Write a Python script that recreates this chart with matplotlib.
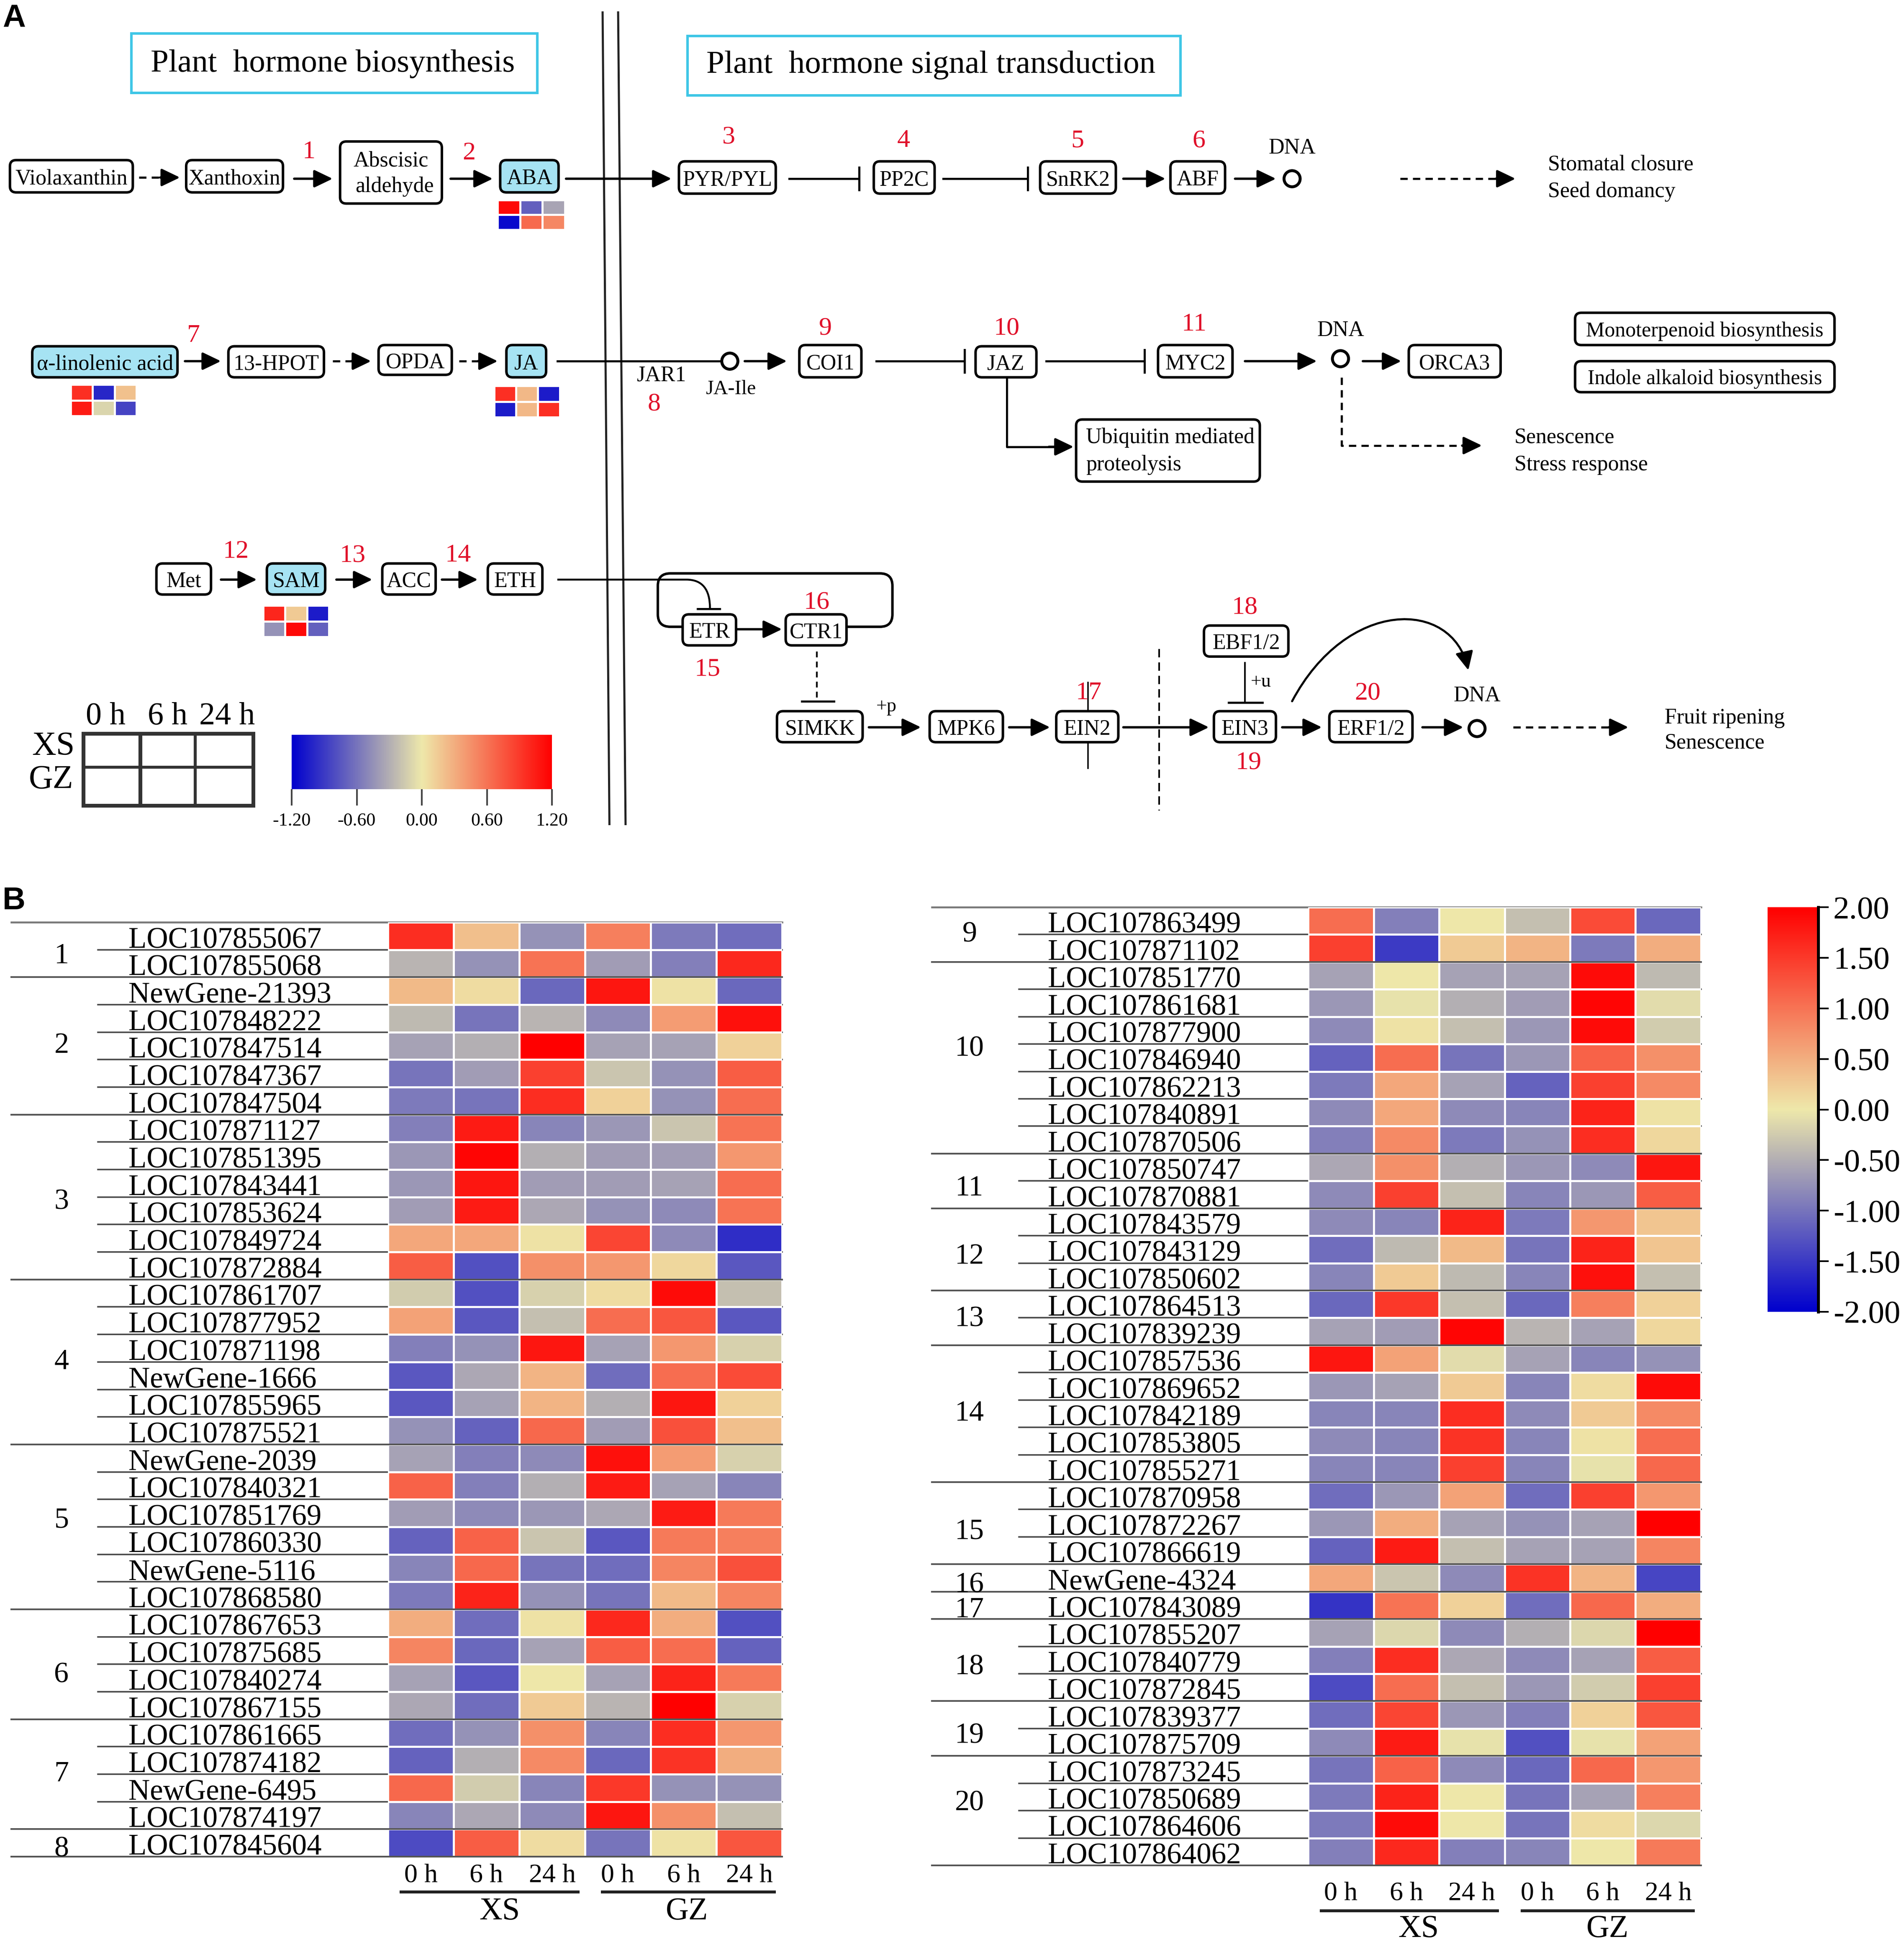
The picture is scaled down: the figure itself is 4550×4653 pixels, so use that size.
import matplotlib
matplotlib.use("Agg")
import matplotlib.pyplot as plt
import numpy as np
from matplotlib.colors import LinearSegmentedColormap
from matplotlib.patches import FancyBboxPatch, FancyArrowPatch, PathPatch, Circle, Rectangle
from matplotlib.path import Path

plt.rcParams['font.family'] = ['Liberation Serif', 'DejaVu Sans']
plt.rcParams['axes.unicode_minus'] = False

W, H = 4550, 4653
K = W / 1534.0  # the diagram below is laid out on a 1534 wide grid

times = ["0 h", "6 h", "24 h", "0 h", "6 h", "24 h"]

genes_left = ["LOC107855067", "LOC107855068", "NewGene-21393", "LOC107848222", "LOC107847514",
              "LOC107847367", "LOC107847504", "LOC107871127", "LOC107851395", "LOC107843441",
              "LOC107853624", "LOC107849724", "LOC107872884", "LOC107861707", "LOC107877952",
              "LOC107871198", "NewGene-1666", "LOC107855965", "LOC107875521", "NewGene-2039",
              "LOC107840321", "LOC107851769", "LOC107860330", "NewGene-5116", "LOC107868580",
              "LOC107867653", "LOC107875685", "LOC107840274", "LOC107867155", "LOC107861665",
              "LOC107874182", "NewGene-6495", "LOC107874197", "LOC107845604"]
groups_left = [2, 5, 6, 6, 6, 4, 4, 1]
values_left = [
    [1.6, 0.35, -0.75, 0.9, -0.95, -1.05],
    [-0.45, -0.75, 1.0, -0.65, -0.9, 1.65],
    [0.4, 0.1, -1.1, 1.8, 0.05, -1.1],
    [-0.4, -1.0, -0.45, -0.8, 0.65, 1.85],
    [-0.6, -0.5, 2.0, -0.6, -0.6, 0.2],
    [-1.0, -0.65, 1.45, -0.3, -0.75, 1.2],
    [-0.95, -1.0, 1.6, 0.2, -0.75, 1.05],
    [-0.9, 1.75, -0.85, -0.7, -0.3, 1.0],
    [-0.7, 1.95, -0.5, -0.65, -0.65, 0.7],
    [-0.7, 1.8, -0.65, -0.65, -0.6, 1.05],
    [-0.65, 1.75, -0.55, -0.75, -0.8, 1.0],
    [0.55, 0.55, 0.05, 1.4, -0.8, -1.6],
    [1.2, -1.3, 0.75, 0.7, 0.15, -1.25],
    [-0.25, -1.3, -0.2, 0.1, 1.9, -0.35],
    [0.6, -1.25, -0.35, 1.05, 1.25, -1.25],
    [-0.9, -0.75, 1.8, -0.6, 0.7, -0.2],
    [-1.25, -0.55, 0.45, -1.05, 1.05, 1.35],
    [-1.25, -0.6, 0.45, -0.5, 1.8, 0.2],
    [-0.75, -1.15, 1.1, -0.65, 1.3, 0.35],
    [-0.6, -0.9, -0.8, 1.85, 0.65, -0.2],
    [1.15, -0.9, -0.5, 1.75, -0.6, -0.85],
    [-0.65, -0.8, -0.7, -0.55, 1.75, 0.95],
    [-1.15, 1.15, -0.3, -1.25, 0.95, 0.9],
    [-0.85, 1.1, -1.0, -1.05, 0.85, 1.3],
    [-0.95, 1.7, -0.75, -1.0, 0.4, 0.85],
    [0.5, -1.05, 0.05, 1.65, 0.5, -1.3],
    [0.85, -1.1, -0.6, 1.2, 1.05, -1.15],
    [-0.6, -1.25, 0.0, -0.6, 1.7, 0.95],
    [-0.55, -1.05, 0.25, -0.45, 2.0, -0.2],
    [-1.05, -0.75, 0.75, -0.85, 1.6, 0.7],
    [-1.15, -0.5, 0.8, -1.1, 1.55, 0.5],
    [1.1, -0.25, -0.85, 1.5, -0.75, -0.75],
    [-0.85, -0.55, -0.8, 1.8, 0.75, -0.35],
    [-1.35, 1.2, 0.1, -1.0, 0.05, 1.25],
]

genes_right = ["LOC107863499", "LOC107871102", "LOC107851770", "LOC107861681", "LOC107877900",
               "LOC107846940", "LOC107862213", "LOC107840891", "LOC107870506", "LOC107850747",
               "LOC107870881", "LOC107843579", "LOC107843129", "LOC107850602", "LOC107864513",
               "LOC107839239", "LOC107857536", "LOC107869652", "LOC107842189", "LOC107853805",
               "LOC107855271", "LOC107870958", "LOC107872267", "LOC107866619", "NewGene-4324",
               "LOC107843089", "LOC107855207", "LOC107840779", "LOC107872845", "LOC107839377",
               "LOC107875709", "LOC107873245", "LOC107850689", "LOC107864606", "LOC107864062"]
groups_right = [2, 7, 2, 3, 2, 5, 3, 1, 1, 3, 2, 4]
values_right = [
    [1.05, -0.9, 0.0, -0.35, 1.35, -1.1],
    [1.45, -1.5, 0.25, 0.45, -0.95, 0.5],
    [-0.6, 0.0, -0.6, -0.6, 1.9, -0.4],
    [-0.7, -0.05, -0.5, -0.65, 1.95, -0.1],
    [-0.8, 0.05, -0.35, -0.7, 1.9, -0.25],
    [-1.15, 1.05, -1.0, -0.7, 1.15, 0.75],
    [-0.95, 0.55, -0.6, -1.15, 1.45, 0.8],
    [-0.8, 0.55, -0.8, -0.85, 1.7, 0.05],
    [-0.9, 0.8, -0.95, -0.75, 1.6, 0.15],
    [-0.55, 0.75, -0.5, -0.7, -0.8, 1.8],
    [-0.8, 1.45, -0.35, -0.85, -0.7, 1.2],
    [-0.8, -0.85, 1.7, -0.95, 0.7, 0.3],
    [-1.05, -0.4, 0.4, -1.0, 1.7, 0.3],
    [-0.85, 0.25, -0.4, -0.85, 1.85, -0.35],
    [-1.1, 1.5, -0.35, -1.1, 0.9, 0.2],
    [-0.6, -0.65, 1.95, -0.45, -0.6, 0.15],
    [1.8, 0.6, -0.1, -0.6, -0.85, -0.75],
    [-0.7, -0.6, 0.25, -0.85, 0.1, 1.9],
    [-0.85, -0.85, 1.6, -0.8, 0.25, 0.8],
    [-0.8, -0.85, 1.55, -0.85, 0.05, 1.05],
    [-0.85, -0.85, 1.45, -0.85, -0.05, 1.1],
    [-1.05, -0.7, 0.6, -1.05, 1.45, 0.7],
    [-0.7, 0.5, -0.6, -0.75, -0.6, 2.0],
    [-1.15, 1.75, -0.35, -0.6, -0.6, 0.85],
    [0.55, -0.3, -0.8, 1.55, 0.45, -1.4],
    [-1.55, 1.0, 0.2, -1.05, 1.1, 0.5],
    [-0.6, -0.15, -0.8, -0.5, -0.15, 2.0],
    [-0.9, 1.6, -0.55, -0.8, -0.6, 1.2],
    [-1.35, 1.05, -0.35, -0.7, -0.25, 1.45],
    [-1.05, 1.4, -0.7, -0.9, 0.2, 1.25],
    [-0.8, 1.75, -0.05, -1.3, -0.05, 0.6],
    [-1.0, 1.15, -0.8, -1.1, 1.1, 0.7],
    [-0.95, 1.7, 0.0, -1.0, -0.6, 0.9],
    [-0.95, 1.9, 0.0, -1.0, 0.1, -0.15],
    [-0.9, 1.65, -0.9, -0.85, 0.0, 0.95],
]

mini_aba = [[1.15, -0.7, -0.35], [-1.15, 0.65, 0.5]]
mini_linolenic = [[0.95, -1.0, 0.2], [1.05, -0.1, -0.85]]
mini_ja = [[0.95, 0.25, -1.05], [-1.05, 0.25, 0.95]]
mini_sam = [[1.0, 0.15, -1.05], [-0.45, 1.15, -0.7]]

cmap = LinearSegmentedColormap.from_list("byr", ["#0000CD", "#EEE8AA", "#FF0000"])
BLUE = "#a6e3f3"
CYAN = "#3fc6e6"
RED = "#e0102a"
DASH = (0, (3.5, 2.5))

# where the group numbers sit, in rows from the top of each heat map
group_rows_left = [1.23, 4.5, 10.18, 16, 21.77, 27.4, 31, 33.73]
group_rows_right = [1, 5.18, 10.27, 12.77, 15.05, 18.5, 22.82, 24.77, 25.68, 27.77, 30.27, 32.73]


def px(v):
    # pixels to points at dpi 100
    return v * 0.72


fig = plt.figure(figsize=(W / 100, H / 100), dpi=100)


def axes_px(x0, y0, x1, y1):
    return fig.add_axes([x0 / W, 1 - y1 / H, (x1 - x0) / W, (y1 - y0) / H])


ax = fig.add_axes([0, 0, 1, 1])
ax.set_xlim(0, 1534)
ax.set_ylim(H / K, 0)
ax.axis('off')


def label(x, y, s, size=52, color='black', ha='center', **kw):
    ax.text(x, y + 1.5, s, fontsize=px(size), color=color, ha=ha, va='center', zorder=6, **kw)


def node(x0, y0, x1, y1, s, fill='white', size=52):
    ax.add_patch(FancyBboxPatch((x0, y0), x1 - x0, y1 - y0, boxstyle="round,pad=0,rounding_size=5",
                                fc=fill, ec='black', lw=px(6), zorder=4))
    if s:
        label((x0 + x1) / 2, (y0 + y1) / 2 + 0.5, s, size)


def arrow(x0, y0, x1, y1):
    ax.annotate('', xy=(x1, y1), xytext=(x0, y0), zorder=3,
                arrowprops=dict(arrowstyle='-|>,head_length=1,head_width=0.48', mutation_scale=27,
                                lw=px(5.5), color='black', shrinkA=0, shrinkB=0))


def dash_arrow(x0, x1, y):
    ax.plot([x0, x1 - 12], [y, y], color='black', lw=px(5), ls=DASH, zorder=3)
    arrow(x1 - 16, y, x1, y)


def tbar(x0, x1, y):
    ax.plot([x0, x1], [y, y], color='black', lw=px(5), zorder=3)
    ax.plot([x1, x1], [y - 9, y + 9], color='black', lw=px(5), zorder=3)


def dna(x, y, ly):
    ax.add_patch(Circle((x, y), 6.5, fc='white', ec='black', lw=px(7), zorder=4))
    label(x, ly, "DNA", 52)


def mini(x0, y0, x1, y1, vals):
    a = axes_px(x0 * K, y0 * K, x1 * K, y1 * K)
    a.pcolormesh(np.array(vals), cmap=cmap, vmin=-1.2, vmax=1.2, edgecolors='white', linewidth=px(5))
    a.set_ylim(2, 0)
    a.axis('off')


# panel letters
ax.text(2, 15, "A", fontsize=px(76), family='Liberation Sans', weight='bold', va='center')
ax.text(2, 726, "B", fontsize=px(76), family='Liberation Sans', weight='bold', va='center')

# title boxes
ax.add_patch(Rectangle((106, 27), 327, 48, fc='white', ec=CYAN, lw=px(6)))
ax.add_patch(Rectangle((554, 29), 397, 48, fc='white', ec=CYAN, lw=px(6)))
label(268, 50, "Plant  hormone biosynthesis", 77)
label(750, 51, "Plant  hormone signal transduction", 77)

# double divider
ax.plot([485.5, 491], [10, 664], color='#222222', lw=px(5))
ax.plot([498, 504], [10, 664], color='#222222', lw=px(5))

# ABA row
node(8, 129, 107, 155, "Violaxanthin")
node(150, 129, 228, 155, "Xanthoxin")
node(274, 114, 356, 164, "")
label(315, 128, "Abscisic")
label(318, 149, "aldehyde")
node(403, 129, 450, 155, "ABA", BLUE)
dash_arrow(112, 145, 143)
arrow(237, 144, 268, 144)
arrow(363, 144, 397, 144)
arrow(456, 144, 541, 144)
node(547, 130, 625, 156, "PYR/PYL")
tbar(636, 692, 144)
node(704, 130, 753, 156, "PP2C")
tbar(760, 828, 144)
node(838, 130, 899, 156, "SnRK2")
arrow(905, 144, 939, 144)
node(943, 130, 987, 156, "ABF")
arrow(995, 144, 1028, 144)
dna(1041, 144, 118)
dash_arrow(1128, 1221, 144)
label(1247, 131, "Stomatal closure", ha='left')
label(1247, 153, "Seed domancy", ha='left')

# JA row
node(26, 279, 143, 304, "α-linolenic acid", BLUE)
node(184, 279, 261, 304, "13-HPOT")
node(305, 278, 364, 302, "OPDA")
node(408, 278, 440, 304, "JA", BLUE)
arrow(149, 291, 178, 291)
dash_arrow(268, 299, 291)
dash_arrow(370, 401, 291)
ax.plot([449, 581], [291, 291], color='black', lw=px(5), zorder=2)
ax.add_patch(Circle((588, 291), 6.5, fc='white', ec='black', lw=px(7), zorder=4))
label(533, 301, "JAR1")
label(589, 312, "JA-Ile", 48)
arrow(600, 291, 634, 291)
node(644, 278, 694, 304, "COI1")
tbar(706, 777, 291)
node(786, 279, 835, 304, "JAZ")
tbar(843, 922, 291)
node(933, 278, 993, 304, "MYC2")
arrow(1003, 291, 1061, 291)
dna(1080, 289, 265)
arrow(1098, 291, 1129, 291)
node(1135, 278, 1209, 304, "ORCA3")
node(1269, 252, 1478, 278, "Monoterpenoid biosynthesis", size=50)
node(1269, 291, 1478, 316, "Indole alkaloid biosynthesis", size=50)
ax.plot([1081, 1081, 1182], [304, 359, 359], color='black', lw=px(5), ls=DASH, zorder=3)
arrow(1178, 359, 1194, 359)
label(1220, 351, "Senescence", ha='left')
label(1220, 373, "Stress response", ha='left')
ax.plot([811, 811, 850], [304, 360, 360], color='black', lw=px(5), zorder=3)
arrow(845, 360, 865, 360)
node(867, 338, 1015, 388, "")
label(875, 351, "Ubiquitin mediated", ha='left')
label(875, 373, "proteolysis", ha='left')

# ethylene row
node(126, 454, 170, 479, "Met")
node(215, 454, 262, 479, "SAM", BLUE)
node(308, 454, 351, 479, "ACC")
node(393, 454, 437, 479, "ETH")
arrow(178, 467, 207, 467)
arrow(271, 467, 300, 467)
arrow(356, 467, 385, 467)
eth_path = Path([(449, 467), (553, 467), (572, 467), (572, 490)],
                [Path.MOVETO, Path.LINETO, Path.CURVE3, Path.CURVE3])
ax.add_patch(PathPatch(eth_path, fc='none', ec='black', lw=px(4.5), zorder=3))
ax.plot([562, 580], [490.5, 490.5], color='black', lw=px(5), zorder=3)
loop_path = Path([(550, 505), (540, 505), (530, 505), (530, 495), (530, 472), (530, 462), (540, 462),
                  (709, 462), (719, 462), (719, 472), (719, 495), (719, 505), (709, 505), (682, 505)],
                 [Path.MOVETO, Path.LINETO, Path.CURVE3, Path.CURVE3, Path.LINETO, Path.CURVE3, Path.CURVE3,
                  Path.LINETO, Path.CURVE3, Path.CURVE3, Path.LINETO, Path.CURVE3, Path.CURVE3, Path.LINETO])
ax.add_patch(PathPatch(loop_path, fc='none', ec='black', lw=px(6), zorder=3))
node(550, 495, 593, 520, "ETR")
node(633, 495, 682, 520, "CTR1")
arrow(594, 507, 630, 507)
ax.plot([658, 658], [525, 565], color='black', lw=px(4), ls=DASH, zorder=3)
ax.plot([646, 672], [565, 565], color='black', lw=px(5), zorder=3)
node(626, 573, 695, 598, "SIMKK")
label(714, 568, "+p", 46)
arrow(700, 586, 742, 586)
node(749, 573, 808, 598, "MPK6")
arrow(813, 586, 846, 586)
ax.plot([876.5, 876.5], [550, 619], color='black', lw=px(3.5), zorder=3)
node(851, 573, 901, 598, "EIN2")
arrow(905, 586, 974, 586)
ax.plot([934, 934], [523, 653], color='black', lw=px(4), ls=(0, (5, 3)), zorder=2)
node(978, 573, 1028, 598, "EIN3")
node(970, 504, 1038, 529, "EBF1/2")
ax.plot([1003, 1003], [534, 566], color='black', lw=px(4), zorder=3)
ax.plot([990, 1017], [566, 566], color='black', lw=px(5), zorder=3)
label(1016, 548, "+u", 46)
arrow(1033, 586, 1065, 586)
node(1071, 573, 1138, 598, "ERF1/2")
arrow(1146, 586, 1179, 586)
dna(1190, 587, 559)
curve = Path([(1041, 565), (1085, 482), (1170, 482), (1183, 540)],
             [Path.MOVETO, Path.CURVE4, Path.CURVE4, Path.CURVE4])
ax.add_patch(FancyArrowPatch(path=curve, arrowstyle='-|>,head_length=1,head_width=0.48', mutation_scale=27,
                             lw=px(5), color='black', zorder=3))
dash_arrow(1219, 1312, 586)
label(1341, 577, "Fruit ripening", ha='left')
label(1341, 597, "Senescence", ha='left')

# red step numbers
steps = {"1": (249, 121), "2": (378, 122), "3": (587, 109), "4": (728, 112), "5": (868, 112), "6": (966, 112),
         "7": (156, 269), "8": (527, 324), "9": (665, 263), "10": (811, 263), "11": (962, 260),
         "12": (190, 443), "13": (284, 446), "14": (369, 446), "15": (570, 538), "16": (658, 484),
         "17": (877, 557), "18": (1003, 488), "19": (1006, 613), "20": (1102, 557)}
for s, (x, y) in steps.items():
    label(x, y, s, 62, RED)

# mini heatmaps next to metabolites
mini(401, 161, 455, 185, mini_aba)
mini(57, 310, 110, 335, mini_linolenic)
mini(398, 311, 451, 336, mini_ja)
mini(212, 488, 265, 513, mini_sam)

# small legend grid
ax.add_patch(Rectangle((67, 591), 137, 58, fc='white', ec='#333333', lw=px(9)))
ax.plot([113, 113], [591, 649], color='#333333', lw=px(9))
ax.plot([157, 157], [591, 649], color='#333333', lw=px(7))
ax.plot([67, 204], [618, 618], color='#333333', lw=px(7))
label(85, 576, "0 h", 76)
label(135, 576, "6 h", 76)
label(183, 576, "24 h", 76)
label(43, 600, "XS", 80)
label(41, 627, "GZ", 80)

# colour scale of panel A
cax1 = axes_px(697, 1756, 1319, 1886)
sm1 = plt.cm.ScalarMappable(cmap=cmap, norm=plt.Normalize(-1.2, 1.2))
cb1 = fig.colorbar(sm1, cax=cax1, orientation='horizontal', ticks=[-1.2, -0.6, 0, 0.6, 1.2], format='%.2f')
cb1.outline.set_visible(False)
cax1.tick_params(length=28, width=px(4), color='#444444', pad=12, labelsize=px(44))


def heatmap(vals, genes, groups, group_rows, x0, x1, y0, y1, line_x, group_x, text_x, num_x, lab_pad, first):
    a = axes_px(x0, y0, x1, y1)
    m = a.pcolormesh(np.array(vals), cmap=cmap, vmin=-2, vmax=2, edgecolors='white', linewidth=px(5))
    n = len(genes)
    a.set_ylim(n, 0)
    a.set_xlim(0, 6)
    for name in a.spines:
        a.spines[name].set_visible(False)
    a.set_yticks([])
    a.set_xticks(np.arange(6) + 0.5)
    a.set_xticklabels(times, fontsize=px(64))
    a.tick_params(axis='x', length=0, pad=lab_pad)
    tr = a.get_yaxis_transform()

    def fx(v):
        return (v - x0) / (x1 - x0)

    for i, g in enumerate(genes):
        a.text(fx(text_x), i + 0.93, g, transform=tr, fontsize=px(71), ha='left', va='baseline', clip_on=False)
        a.plot([fx(line_x), 1], [i + 1, i + 1], transform=tr, color='#444444', lw=px(3.5), clip_on=False, zorder=0)
    a.plot([fx(group_x), 1], [0, 0], transform=tr, color='#777777', lw=px(4.5), clip_on=False, zorder=0)
    end = 0
    for k, c in enumerate(groups):
        a.text(fx(num_x), group_rows[k], str(k + first), transform=tr, fontsize=px(70), ha='center', va='center',
               clip_on=False)
        end += c
        a.plot([fx(group_x), 1], [end, end], transform=tr, color='#555555', lw=px(4), clip_on=False, zorder=1)

    def fy(v):
        return (y1 - v) / (y1 - y0)

    return a, m, fx, fy


# heat map, left
axl, ml, fxl, fyl = heatmap(values_left, genes_left, groups_left, group_rows_left,
                            927, 1869, 2204, 4437, 234, 27, 307, 147, 12, 1)
for x0, x1, name, xc in [(958, 1381, "XS", 1194), (1439, 1850, "GZ", 1642)]:
    axl.plot([fxl(x0), fxl(x1)], [fyl(4521), fyl(4521)], transform=axl.transAxes, color='#222222', lw=px(7),
             clip_on=False)
    axl.text(fxl(xc), fyl(4568), name, transform=axl.transAxes, fontsize=px(76), ha='center', va='center',
             clip_on=False)

# heat map, right
axr, mr, fxr, fyr = heatmap(values_right, genes_right, groups_right, group_rows_right,
                            3126, 4065, 2168, 4458, 2435, 2227, 2504, 2317, 28, 9)
for x0, x1, name, xc in [(3157, 3578, "XS", 3390), (3637, 4046, "GZ", 3842)]:
    axr.plot([fxr(x0), fxr(x1)], [fyr(4566), fyr(4566)], transform=axr.transAxes, color='#222222', lw=px(7),
             clip_on=False)
    axr.text(fxr(xc), fyr(4610), name, transform=axr.transAxes, fontsize=px(76), ha='center', va='center',
             clip_on=False)

# colour scale of panel B
cax2 = axes_px(4224, 2168, 4345, 3135)
cb2 = fig.colorbar(mr, cax=cax2, ticks=np.arange(-2, 2.01, 0.5), format='%.2f')
cb2.outline.set_visible(False)
cax2.spines['right'].set_visible(True)
cax2.spines['right'].set_linewidth(px(7))
cax2.tick_params(length=18, width=px(4), pad=8, labelsize=px(77))

fig.savefig("out.png", dpi=100)
